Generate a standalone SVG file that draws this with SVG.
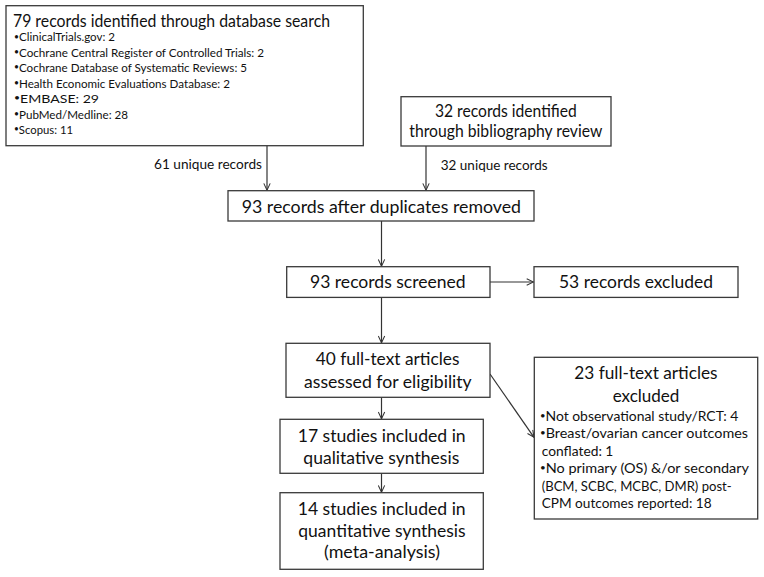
<svg xmlns="http://www.w3.org/2000/svg" width="764" height="577" viewBox="0 0 764 577">
<defs>
<style>
.box{fill:#ffffff;stroke:#3a3a3a;stroke-width:1.3}
.conn{fill:none;stroke:#333333;stroke-width:1.2}
text{font-family:Lato,"Liberation Sans",sans-serif;fill:#111111}
.t{font-size:17px}
.b{font-size:11.5px}
.b2{font-size:12.5px}
.l{font-size:13px}
.d{font-size:8.5px}
</style>
<marker id="arr" viewBox="0 0 10 10" refX="9.5" refY="5" markerWidth="8" markerHeight="8" markerUnits="userSpaceOnUse" orient="auto">
<path d="M1,1 L9.5,5 L1,9" fill="none" stroke="#333333" stroke-width="1.3"/>
</marker>
</defs>
<rect width="764" height="577" fill="#ffffff"/>
<g id="connectors">
<line class="conn" x1="267" y1="145.7" x2="267" y2="190.2" marker-end="url(#arr)"/>
<line class="conn" x1="426" y1="146" x2="426" y2="190.2" marker-end="url(#arr)"/>
<line class="conn" x1="381.5" y1="221" x2="381.5" y2="266.2" marker-end="url(#arr)"/>
<line class="conn" x1="490" y1="282" x2="533.5" y2="282" marker-end="url(#arr)"/>
<line class="conn" x1="381.5" y1="297.4" x2="381.5" y2="342.8" marker-end="url(#arr)"/>
<line class="conn" x1="381.5" y1="397.3" x2="381.5" y2="418.8" marker-end="url(#arr)"/>
<line class="conn" x1="381.5" y1="473.3" x2="381.5" y2="492.2" marker-end="url(#arr)"/>
<line class="conn" x1="490" y1="374" x2="534" y2="437.3" marker-end="url(#arr)"/>
<text class="l" x="154" y="169" textLength="108" lengthAdjust="spacingAndGlyphs">61 unique records</text>
<text class="l" x="440.7" y="170" textLength="107" lengthAdjust="spacingAndGlyphs">32 unique records</text>
</g>
<g id="db-search">
<rect class="box" x="6" y="5.7" width="357.3" height="140"/>
<text class="t" x="13" y="26.7" textLength="317" lengthAdjust="spacingAndGlyphs">79 records identified through database search</text>
<text class="b" x="14" y="41.3" textLength="101" lengthAdjust="spacingAndGlyphs"><tspan class="d" dy="-1.8">•</tspan><tspan dy="1.8">ClinicalTrials.gov: 2</tspan></text>
<text class="b" x="14" y="56.7" textLength="250" lengthAdjust="spacingAndGlyphs"><tspan class="d" dy="-1.8">•</tspan><tspan dy="1.8">Cochrane Central Register of Controlled Trials: 2</tspan></text>
<text class="b" x="14" y="72.2" textLength="233" lengthAdjust="spacingAndGlyphs"><tspan class="d" dy="-1.8">•</tspan><tspan dy="1.8">Cochrane Database of Systematic Reviews: 5</tspan></text>
<text class="b" x="14" y="87.6" textLength="216" lengthAdjust="spacingAndGlyphs"><tspan class="d" dy="-1.8">•</tspan><tspan dy="1.8">Health Economic Evaluations Database: 2</tspan></text>
<text class="b" x="14" y="103" textLength="85" lengthAdjust="spacingAndGlyphs"><tspan class="d" dy="-1.8">•</tspan><tspan dy="1.8">EMBASE: 29</tspan></text>
<text class="b" x="14" y="118.5" textLength="114" lengthAdjust="spacingAndGlyphs"><tspan class="d" dy="-1.8">•</tspan><tspan dy="1.8">PubMed/Medline: 28</tspan></text>
<text class="b" x="14" y="134" textLength="59" lengthAdjust="spacingAndGlyphs"><tspan class="d" dy="-1.8">•</tspan><tspan dy="1.8">Scopus: 11</tspan></text>
</g>
<g id="bib-review">
<rect class="box" x="401" y="96.7" width="210" height="49.3"/>
<text class="t" x="435" y="116.7" textLength="141.7" lengthAdjust="spacingAndGlyphs">32 records identified</text>
<text class="t" x="409.3" y="136.7" textLength="193" lengthAdjust="spacingAndGlyphs">through bibliography review</text>
</g>
<g id="after-dup">
<rect class="box" x="228" y="190.7" width="306" height="30.3"/>
<text class="t" x="241.7" y="212.5" textLength="279.3" lengthAdjust="spacingAndGlyphs">93 records after duplicates removed</text>
</g>
<g id="screened">
<rect class="box" x="286.7" y="266.7" width="203.3" height="30.7"/>
<text class="t" x="310" y="288" textLength="155.7" lengthAdjust="spacingAndGlyphs">93 records screened</text>
</g>
<g id="excluded">
<rect class="box" x="534" y="266.7" width="204" height="30.7"/>
<text class="t" x="559" y="288" textLength="154" lengthAdjust="spacingAndGlyphs">53 records excluded</text>
</g>
<g id="fulltext">
<rect class="box" x="286" y="343.3" width="204" height="54"/>
<text class="t" x="315.7" y="365" textLength="143.7" lengthAdjust="spacingAndGlyphs">40 full-text articles</text>
<text class="t" x="304" y="387.5" textLength="167.7" lengthAdjust="spacingAndGlyphs">assessed for eligibility</text>
</g>
<g id="qualitative">
<rect class="box" x="280" y="419.3" width="203.3" height="54"/>
<text class="t" x="297.7" y="441.7" textLength="168" lengthAdjust="spacingAndGlyphs">17 studies included in</text>
<text class="t" x="303.3" y="464" textLength="156" lengthAdjust="spacingAndGlyphs">qualitative synthesis</text>
</g>
<g id="quantitative">
<rect class="box" x="280" y="492.7" width="203.3" height="76.6"/>
<text class="t" x="297.7" y="515" textLength="168" lengthAdjust="spacingAndGlyphs">14 studies included in</text>
<text class="t" x="298.3" y="536.7" textLength="167.3" lengthAdjust="spacingAndGlyphs">quantitative synthesis</text>
<text class="t" x="324" y="558.3" textLength="116" lengthAdjust="spacingAndGlyphs">(meta-analysis)</text>
</g>
<g id="ft-excluded">
<rect class="box" x="534.3" y="357.3" width="223.4" height="161.7"/>
<text class="t" x="574.3" y="379.3" textLength="143.3" lengthAdjust="spacingAndGlyphs">23 full-text articles</text>
<text class="t" x="612.7" y="401.7" textLength="66.7" lengthAdjust="spacingAndGlyphs">excluded</text>
<text class="b2" x="540" y="420.7" textLength="198.3" lengthAdjust="spacingAndGlyphs"><tspan class="d" dy="-2">•</tspan><tspan dy="2">Not observational study/RCT: 4</tspan></text>
<text class="b2" x="540" y="438.2" textLength="208" lengthAdjust="spacingAndGlyphs"><tspan class="d" dy="-2">•</tspan><tspan dy="2">Breast/ovarian cancer outcomes</tspan></text>
<text class="b2" x="541.7" y="455.7" textLength="71.7" lengthAdjust="spacingAndGlyphs">conflated: 1</text>
<text class="b2" x="540" y="473.2" textLength="209" lengthAdjust="spacingAndGlyphs"><tspan class="d" dy="-2">•</tspan><tspan dy="2">No primary (OS) &amp;/or secondary</tspan></text>
<text class="b2" x="541.7" y="490.7" textLength="190" lengthAdjust="spacingAndGlyphs">(BCM, SCBC, MCBC, DMR) post-</text>
<text class="b2" x="541.7" y="508.2" textLength="170" lengthAdjust="spacingAndGlyphs">CPM outcomes reported: 18</text>
</g>
</svg>
